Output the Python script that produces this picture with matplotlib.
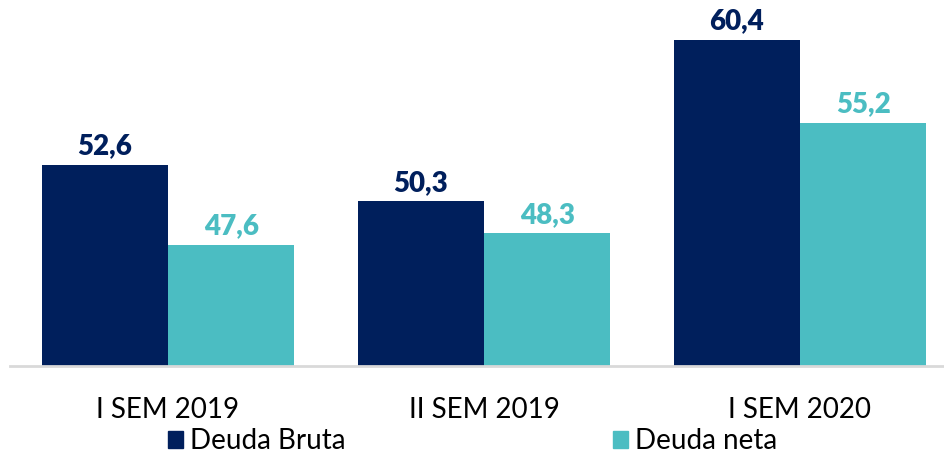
import numpy as np
import matplotlib
matplotlib.use("Agg")
import matplotlib.pyplot as plt
from matplotlib.patches import Patch

plt.rcParams['font.family'] = ['Lato', 'DejaVu Sans']

# Datos
categorias = ["I SEM 2019", "II SEM 2019", "I SEM 2020"]
deuda_bruta = [52.6, 50.3, 60.4]
deuda_neta = [47.6, 48.3, 55.2]
series = ["Deuda Bruta", "Deuda neta"]

c_bruta = "#001F5C"
c_neta = "#4BBDC2"

fig = plt.figure(figsize=(9.45, 4.57), dpi=100)
ax = fig.add_axes([10/945, 91/457, 948/945, 366/457])

x = np.arange(len(categorias))
w = 0.4

b1 = ax.bar(x - w/2, deuda_bruta, w, color=c_bruta)
b2 = ax.bar(x + w/2, deuda_neta, w, color=c_neta)

# etiquetas de valor
for bars, vals, col in [(b1, deuda_bruta, c_bruta), (b2, deuda_neta, c_neta)]:
    for r, v in zip(bars, vals):
        ax.annotate(f"{v:.1f}".replace(".", ","),
                    (r.get_x() + r.get_width()/2, v),
                    xytext=(0, 4), textcoords="offset points",
                    ha="center", va="bottom", fontsize=20,
                    fontweight="heavy", color=col)

ax.set_xlim(-0.5, 2.5)
ax.set_ylim(40, 62.9)

for s in ["top", "right", "left"]:
    ax.spines[s].set_visible(False)
ax.spines["bottom"].set_color("#D9D9D9")
ax.spines["bottom"].set_linewidth(2)
ax.set_yticks([])
ax.set_xticks(x)
ax.set_xticklabels(categorias, fontsize=20, color="black")
ax.tick_params(axis="x", length=0, pad=22)

handles = [Patch(color=c_bruta), Patch(color=c_neta)]
fig.legend(handles, series, loc="center", bbox_to_anchor=(0.5, 0.035),
           ncol=2, frameon=False, fontsize=20, handlelength=0.55,
           handleheight=0.55, handletextpad=0.25, columnspacing=9.6,
           borderaxespad=0, borderpad=0)

fig.savefig("out.png", dpi=100)
